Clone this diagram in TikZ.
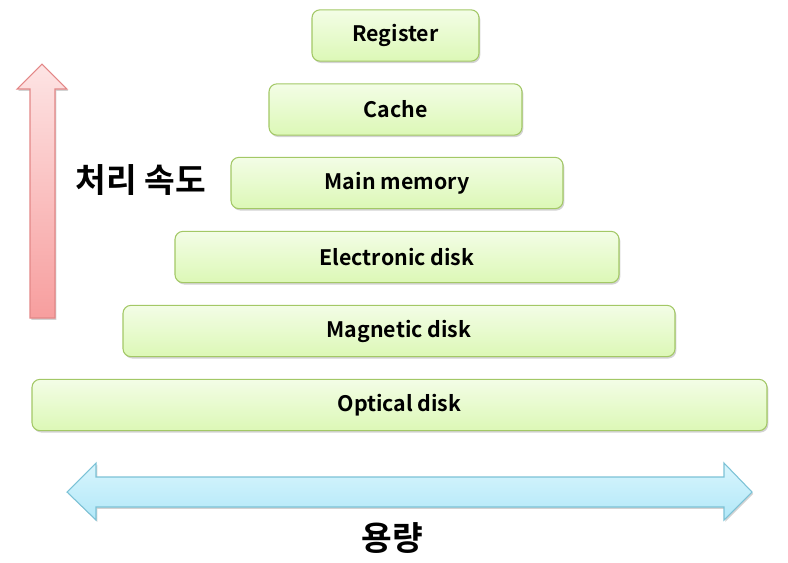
\documentclass[tikz,border=0pt]{standalone}
\usepackage{fontspec}
\setmainfont{Noto Sans CJK KR}[BoldFont={Noto Sans CJK KR Bold}]
\usetikzlibrary{shadows}

\definecolor{levelline}{HTML}{A3C866}
\definecolor{leveltop}{HTML}{F3FDE6}
\definecolor{levelbottom}{HTML}{DCF8B6}
\definecolor{speedline}{HTML}{E38787}
\definecolor{speedtop}{HTML}{FDE4E4}
\definecolor{speedbottom}{HTML}{F79E9E}
\definecolor{sizeline}{HTML}{7CC2D6}
\definecolor{sizetop}{HTML}{D8F5FD}
\definecolor{sizebottom}{HTML}{B2E8F8}

\begin{document}
\begin{tikzpicture}[x=0.75pt, y=-0.75pt,
    level/.style={draw=levelline, line width=0.8pt, rounded corners=6pt,
        top color=leveltop, bottom color=levelbottom,
        minimum height=38.5pt, font=\fontsize{16}{18}\selectfont\bfseries,
        drop shadow={shadow xshift=1pt, shadow yshift=-1.4pt, opacity=0.35}},
    bigarrow/.style={line width=0.8pt, line join=miter,
        drop shadow={shadow xshift=1pt, shadow yshift=-1.4pt, opacity=0.35}},
    axislabel/.style={font=\fontsize{25}{27}\selectfont\bfseries}]
    \useasboundingbox (0,0) rectangle (788,562);
    % memory levels
    \node[level, minimum width=125.25pt] (reg) at (395.5,35.5) {Register};
    \node[level, minimum width=189.75pt] (cache) at (395.5,109.5) {Cache};
    \node[level, minimum width=249pt] (main) at (397,183) {Main memory};
    \node[level, minimum width=333pt] (edisk) at (397,257) {Electronic disk};
    \node[level, minimum width=414pt] (mdisk) at (399,331) {Magnetic disk};
    \node[level, minimum width=551.25pt] (odisk) at (399.5,405) {Optical disk};
    % speed arrow
    \draw[bigarrow, draw=speedline, top color=speedtop, bottom color=speedbottom]
        (30,318) -- (30,89) -- (17,89) -- (42,64) -- (67,89) -- (55,89) -- (55,318) -- cycle;
    \node[axislabel] (speed) at (141,180) {처리 속도};
    % capacity arrow
    \draw[bigarrow, draw=sizeline, top color=sizetop, bottom color=sizebottom]
        (67,492) -- (96,463) -- (96,477) -- (724,477) -- (724,463) -- (752,492)
        -- (724,520) -- (724,507) -- (96,507) -- (96,520) -- cycle;
    \node[axislabel] (size) at (392,538) {용량};
\end{tikzpicture}
\end{document}
